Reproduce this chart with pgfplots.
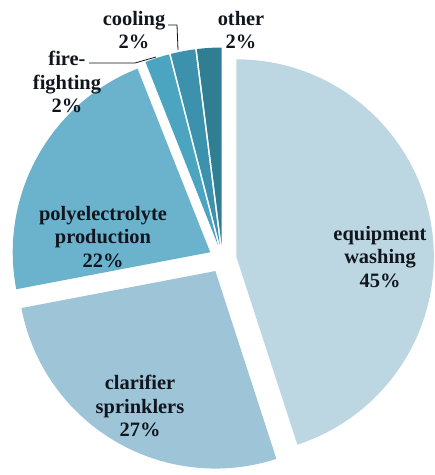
\documentclass[border=0pt]{standalone}
\usepackage{pgfplots}
\pgfplotsset{compat=1.18}
\usepackage{pgfplotstable}
\usepackage{fontspec}
\setmainfont{Liberation Serif}

\definecolor{c1}{HTML}{BDD7E2}
\definecolor{c2}{HTML}{9DC4D7}
\definecolor{c3}{HTML}{6BB2CC}
\definecolor{c4}{HTML}{4BA4C0}
\definecolor{c5}{HTML}{3C92AC}
\definecolor{c6}{HTML}{2F7E92}
\definecolor{txt}{HTML}{10151E}

\pgfplotstableread[col sep=comma]{
value,color
45,c1
27,c2
22,c3
2,c4
2,c5
2,c6
}\piedata

\begin{document}
\begin{tikzpicture}
\gdef\startang{90}
\begin{axis}[
  at={(0,0)}, anchor=south west,
  width=435bp, height=475bp, scale only axis,
  xmin=0, xmax=435, ymin=0, ymax=475,
  axis lines=none, clip=false,
]
\pgfplotsinvokeforeach{0,...,5}{
  \pgfplotstablegetelem{#1}{value}\of\piedata
  \let\val\pgfplotsretval
  \pgfplotstablegetelem{#1}{color}\of\piedata
  \let\col\pgfplotsretval
  \pgfmathsetmacro\a{\startang}
  \pgfmathsetmacro\b{\startang-3.6*\val}
  \pgfmathsetmacro\m{(\a+\b)/2}
  \pgfmathsetmacro\ax{222.5+14*cos(\m)}
  \pgfmathsetmacro\ay{216+14*sin(\m)}
  \xdef\startang{\b}
  \edef\temp{\noexpand\fill[\col] (axis cs:\ax,\ay) -- ++(\a:197.5bp) arc[start angle=\a, end angle=\b, radius=197.5bp] -- cycle;}
  \temp
}
\tikzset{lab/.style={align=center, text=txt, font=\fontsize{20.5}{23.5}\selectfont\bfseries, inner sep=0pt}}
\node[lab] at (axis cs:380,218) {equipment\\washing\\45\%};
\node[lab] at (axis cs:140,69) {clarifier\\sprinklers\\27\%};
\node[lab] at (axis cs:103,238) {polyelectrolyte\\production\\22\%};
\node[lab] at (axis cs:67,393) {fire-\\fighting\\2\%};
\node[lab] at (axis cs:134,445) {cooling\\2\%};
\node[lab] at (axis cs:241,445) {other\\2\%};
\draw[txt, line width=0.8pt] (axis cs:89,412) -- (axis cs:135,412) -- (axis cs:156,418);
\draw[txt, line width=0.8pt] (axis cs:168,450) -- (axis cs:177,450) -- (axis cs:178,425);
\end{axis}
\pgfresetboundingbox
\useasboundingbox (0,0) rectangle (435bp,475bp);
\end{tikzpicture}
\end{document}
